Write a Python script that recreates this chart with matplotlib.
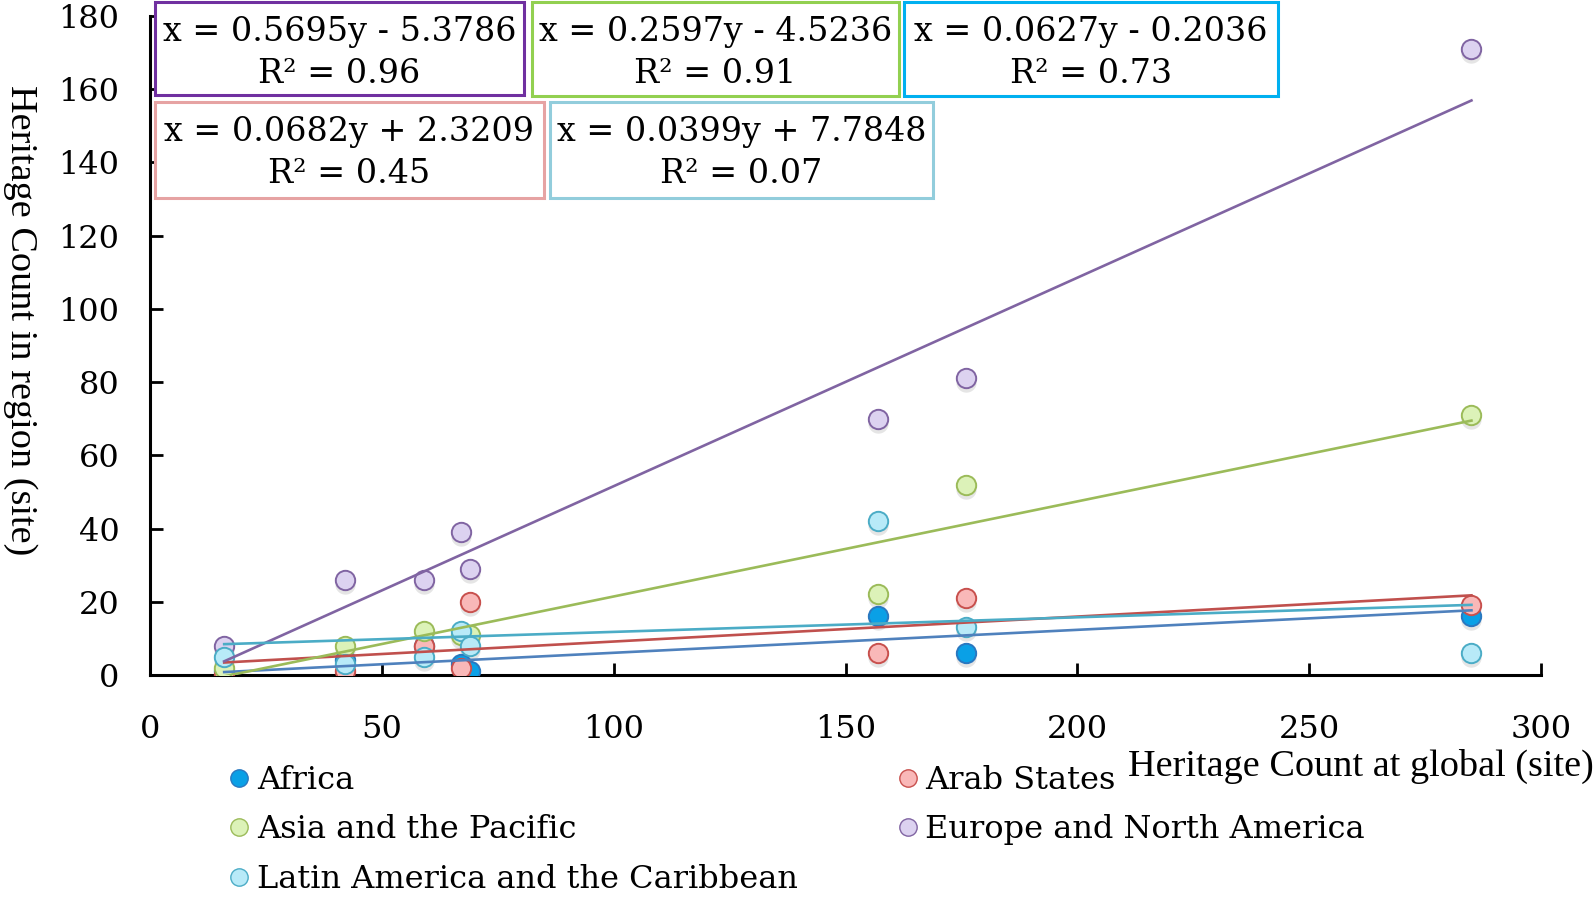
import matplotlib.pyplot as plt
import numpy as np
from matplotlib.patches import Rectangle
from matplotlib.lines import Line2D

# data: global count (x) vs count in each region (y)
x_global = [16, 42, 59, 67, 69, 157, 176, 285]
africa = [1, 4, 8, 3, 1, 16, 6, 16]
arab_states = [0, 1, 8, 2, 20, 6, 21, 19]
asia_pacific = [2, 8, 12, 11, 11, 22, 52, 71]
europe_na = [8, 26, 26, 39, 29, 70, 81, 171]
latin_america = [5, 3, 5, 12, 8, 42, 13, 6]

# trend line coefficients as printed in the boxes
slopes = {'Africa': 0.0627, 'Arab States': 0.0682, 'Asia and the Pacific': 0.2597,
          'Europe and North America': 0.5695, 'Latin America and the Caribbean': 0.0399}
intercepts = {'Africa': -0.2036, 'Arab States': 2.3209, 'Asia and the Pacific': -4.5236,
              'Europe and North America': -5.3786, 'Latin America and the Caribbean': 7.7848}
r2 = {'Africa': '0.73', 'Arab States': '0.45', 'Asia and the Pacific': '0.91',
      'Europe and North America': '0.96', 'Latin America and the Caribbean': '0.07'}

series = [
    ('Africa', africa, '#0AA0E6', '#2A78C0', '#4F81BD', '#00B0F0'),
    ('Arab States', arab_states, '#F9B8B8', '#C8504D', '#C0504D', '#E6A3A3'),
    ('Asia and the Pacific', asia_pacific, '#DCF2B8', '#9BBB59', '#9BBB59', '#92D050'),
    ('Europe and North America', europe_na, '#DCD2F0', '#8064A2', '#8064A2', '#7030A0'),
    ('Latin America and the Caribbean', latin_america, '#B8EAF8', '#4BACC6', '#4BACC6', '#92CDDC'),
]

eq_font = 'DejaVu Serif'
lab_font = 'Liberation Serif'

fig = plt.figure(figsize=(15.94, 8.99), dpi=100)
ax = fig.add_axes([150/1594, 1-675/899, (1541-150)/1594, (675-16)/899])

handles = {}
for name, vals, fc, ec, lc, bc in series:
    # soft shadow under markers
    ax.scatter(x_global, np.array(vals) - 1.1, s=215, color='#999999', alpha=0.25,
               linewidths=0, zorder=2)
    ax.scatter(x_global, vals, s=195, facecolor=fc, edgecolor=ec, linewidths=1.4, zorder=3)
    handles[name] = Line2D([], [], marker='o', linestyle='none', markersize=12.5,
                           markerfacecolor=fc, markeredgecolor=ec)

# trend lines drawn on top
for name, vals, fc, ec, lc, bc in series:
    xs = np.array([min(x_global), max(x_global)])
    ax.plot(xs, slopes[name] * xs + intercepts[name], color=lc, lw=1.9, zorder=4)

ax.set_xlim(0, 300)
ax.set_ylim(0, 180)
ax.set_xticks(range(0, 301, 50))
ax.set_yticks(range(0, 181, 20))
for s in ['top', 'right']:
    ax.spines[s].set_visible(False)
for s in ['left', 'bottom']:
    ax.spines[s].set_linewidth(2.2)
ax.tick_params(direction='in', length=9, width=2, labelsize=23)
ax.tick_params(axis='x', pad=28)
ax.tick_params(axis='y', pad=22)
for lab in ax.get_xticklabels() + ax.get_yticklabels():
    lab.set_fontfamily(eq_font)

fig.text(20/1594, 1-320/899, 'Heritage Count in region (site)', rotation=270,
         ha='center', va='center', fontsize=27.5, family=lab_font)
fig.text(1594/1594, 1-766/899, 'Heritage Count at global (site)',
         ha='right', va='center', fontsize=27.5, family=lab_font)

# equation boxes (pixel layout of the reference)
boxes = [
    ('Europe and North America', 155, 2, 524, 95),
    ('Asia and the Pacific', 532, 2, 899, 96),
    ('Africa', 904, 2, 1278, 96),
    ('Arab States', 155, 102, 544, 198),
    ('Latin America and the Caribbean', 550, 102, 933, 198),
]
box_col = {s[0]: s[5] for s in series}
for name, x0, y0, x1, y1 in boxes:
    fig.patches.append(Rectangle((x0/1594, 1-y1/899), (x1-x0)/1594, (y1-y0)/899,
                                 transform=fig.transFigure, fill=True, facecolor='white',
                                 edgecolor=box_col[name], lw=2.2, zorder=5))
    b = intercepts[name]
    sign = '-' if b < 0 else '+'
    eq = f'x = {slopes[name]:.4f}y {sign} {abs(b):.4f}'
    cx = (x0 + x1) / 2 / 1594
    fig.text(cx, 1-(y0 + 30)/899, eq, ha='center', va='center', fontsize=24,
             family=eq_font, zorder=6)
    fig.text(cx, 1-(y0 + 72)/899, f'R² = {r2[name]}', ha='center', va='center',
             fontsize=24, family=eq_font, zorder=6)

order = ['Africa', 'Asia and the Pacific', 'Latin America and the Caribbean',
         'Arab States', 'Europe and North America']
fig.legend([handles[n] for n in order], order, loc='upper left',
           bbox_to_anchor=(212/1594, 1-752/899), ncol=2, frameon=False,
           prop={'family': eq_font, 'size': 23}, handletextpad=0.1,
           handlelength=0.9, columnspacing=3.0, labelspacing=0.58, borderaxespad=0)

fig.savefig('out.png', dpi=100)
